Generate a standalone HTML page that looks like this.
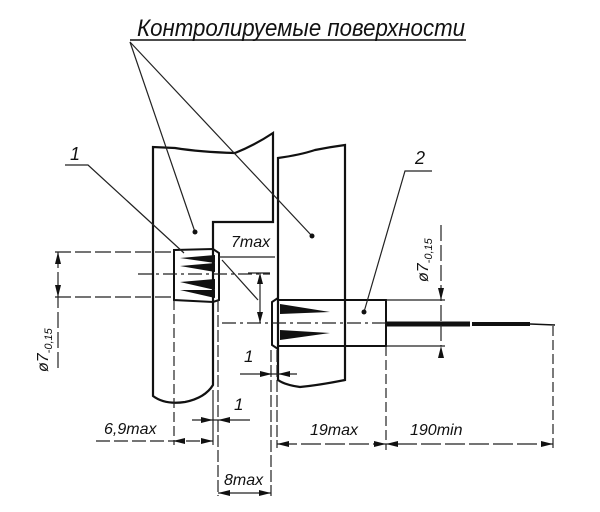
<!DOCTYPE html>
<html><head><meta charset="utf-8"><style>
html,body{margin:0;padding:0;background:#fff;}
svg{display:block;}
text{font-family:"Liberation Sans","DejaVu Sans",sans-serif;font-style:italic;fill:#111;}
</style></head><body>
<svg width="600" height="512" viewBox="0 0 600 512" xmlns="http://www.w3.org/2000/svg">
<g fill="none" stroke="#111" stroke-width="2">
<!-- title -->
<line x1="130" y1="40" x2="466" y2="40" stroke-width="1.5"/>
<!-- left plate -->
<path d="M153,147 L153,396 Q165,405 185,402 Q205,398 213,385 L213,222 L273,222 L273,133 Q255,145 235,153 Q200,152 175,148 Z" stroke-width="2.2"/>
<!-- right plate -->
<path d="M278,158 Q300,155 315,150 Q330,147 345,145 L345,380 Q320,385 300,387 Q285,385 278,380 Z" stroke-width="2.2"/>
<!-- connector 1 -->
<path d="M174,250 L213,249 L219,253 L219,300 L213,302 L174,300 Z"/>
<line x1="213" y1="250" x2="213" y2="302"/>
<!-- connector 2 -->
<path d="M278,298 L272,302 L272,345 L278,349"/>
<path d="M278,300 L386,300 L386,346 L278,346"/>
<line x1="278" y1="298" x2="278" y2="349"/>
<line x1="386" y1="324" x2="470" y2="324" stroke-width="5"/>
<line x1="472" y1="324" x2="530" y2="324" stroke-width="4"/>
<line x1="530" y1="324" x2="555" y2="325" stroke-width="1.5"/>
</g>
<!-- pins -->
<g fill="#111">
<polygon points="180,258 215,255 215,263"/>
<polygon points="180,266 215,263 215,272"/>
<polygon points="180,282 215,279 215,290"/>
<polygon points="180,290 215,290 215,298"/>
<polygon points="280,304 330,312 280,314"/>
<polygon points="280,330 330,333 280,340"/>
</g>
<g fill="none" stroke="#222" stroke-width="1.2">
<!-- center lines -->
<line x1="138" y1="274" x2="270" y2="274" stroke-dasharray="14,4,3,4"/>
<line x1="222" y1="323" x2="272" y2="323" stroke-dasharray="14,4,3,4"/>
<line x1="272" y1="323" x2="386" y2="323" stroke-dasharray="14,4,3,4"/>
<!-- 7max line -->
<line x1="219" y1="257" x2="275" y2="257"/>
<!-- leaders -->
<line x1="130" y1="42" x2="195" y2="232"/>
<line x1="130" y1="42" x2="312" y2="236"/>
<path d="M65,165 L88,165 L184,253"/>
<line x1="222" y1="260" x2="258" y2="300"/>
<path d="M432,171 L405,171 L364,312"/>
<!-- left phi dims -->
<line x1="55" y1="252" x2="175" y2="252" stroke-dasharray="16,4"/>
<line x1="55" y1="297" x2="175" y2="297" stroke-dasharray="16,4"/>
<line x1="58" y1="252" x2="58" y2="372" stroke-dasharray="16,4"/>
<!-- right phi dims -->
<line x1="386" y1="300" x2="445" y2="300"/>
<line x1="386" y1="346" x2="445" y2="346"/>
<line x1="441" y1="225" x2="441" y2="346" stroke-dasharray="16,4"/>
<!-- small offset dim -->
<line x1="248" y1="273" x2="270" y2="273"/>
<line x1="260" y1="273" x2="260" y2="323"/>
<!-- vertical extension lines -->
<line x1="174" y1="300" x2="174" y2="445" stroke-dasharray="10,4"/>
<line x1="213" y1="390" x2="213" y2="445"/>
<line x1="218" y1="300" x2="218" y2="496" stroke-dasharray="12,3"/>
<line x1="271" y1="350" x2="271" y2="496" stroke-dasharray="12,3"/>
<line x1="277" y1="350" x2="277" y2="448" stroke-dasharray="12,3"/>
<line x1="386" y1="346" x2="386" y2="450" stroke-dasharray="10,4"/>
<line x1="553" y1="326" x2="553" y2="450" stroke-dasharray="10,4"/>
<!-- dimension lines -->
<line x1="96" y1="441" x2="213" y2="441" stroke-dasharray="14,4"/>
<line x1="192" y1="420" x2="250" y2="420"/>
<line x1="240" y1="374" x2="297" y2="374"/>
<line x1="218" y1="493" x2="271" y2="493"/>
<line x1="277" y1="444" x2="553" y2="444" stroke-dasharray="20,4"/>
</g>
<!-- arrowheads -->
<g fill="#111">
<polygon points="58,252 55,264 61,264"/>
<polygon points="58,297 55,285 61,285"/>
<polygon points="441,300 438,288 444,288"/>
<polygon points="441,346 438,358 444,358"/>
<polygon points="260,273 257,284 263,284"/>
<polygon points="260,323 257,312 263,312"/>
<polygon points="213,441 201,438 201,444"/>
<polygon points="173,441 185,438 185,444"/>
<polygon points="213,420 201,417 201,423"/>
<polygon points="218,420 230,417 230,423"/>
<polygon points="272,374 260,371 260,377"/>
<polygon points="278,374 290,371 290,377"/>
<polygon points="218,493 230,490 230,496"/>
<polygon points="271,493 259,490 259,496"/>
<polygon points="277,444 289,441 289,447"/>
<polygon points="386,444 374,441 374,447"/>
<polygon points="386,444 398,441 398,447"/>
<polygon points="553,444 541,441 541,447"/>
<circle cx="195" cy="232" r="2.5"/>
<circle cx="312" cy="236" r="2.5"/>
<circle cx="364" cy="312" r="2.5"/>
</g>
<!-- text -->
<text x="137" y="36" font-size="24" textLength="328" lengthAdjust="spacingAndGlyphs">Контролируемые поверхности</text>
<text x="70" y="160" font-size="18">1</text>
<text x="415" y="164" font-size="18">2</text>
<text x="231" y="247" font-size="16">7max</text>
<text x="244" y="362" font-size="17">1</text>
<text x="234" y="410" font-size="17">1</text>
<text x="104" y="434" font-size="16">6,9max</text>
<text x="310" y="435" font-size="16">19max</text>
<text x="410" y="435" font-size="16">190min</text>
<text x="224" y="485" font-size="16">8max</text>
<text transform="translate(48,372) rotate(-90)" font-size="16">ø7<tspan font-size="11" dy="4">-0,15</tspan></text>
<text transform="translate(428,282) rotate(-90)" font-size="16">ø7<tspan font-size="11" dy="4">-0,15</tspan></text>
</svg>
</body></html>
